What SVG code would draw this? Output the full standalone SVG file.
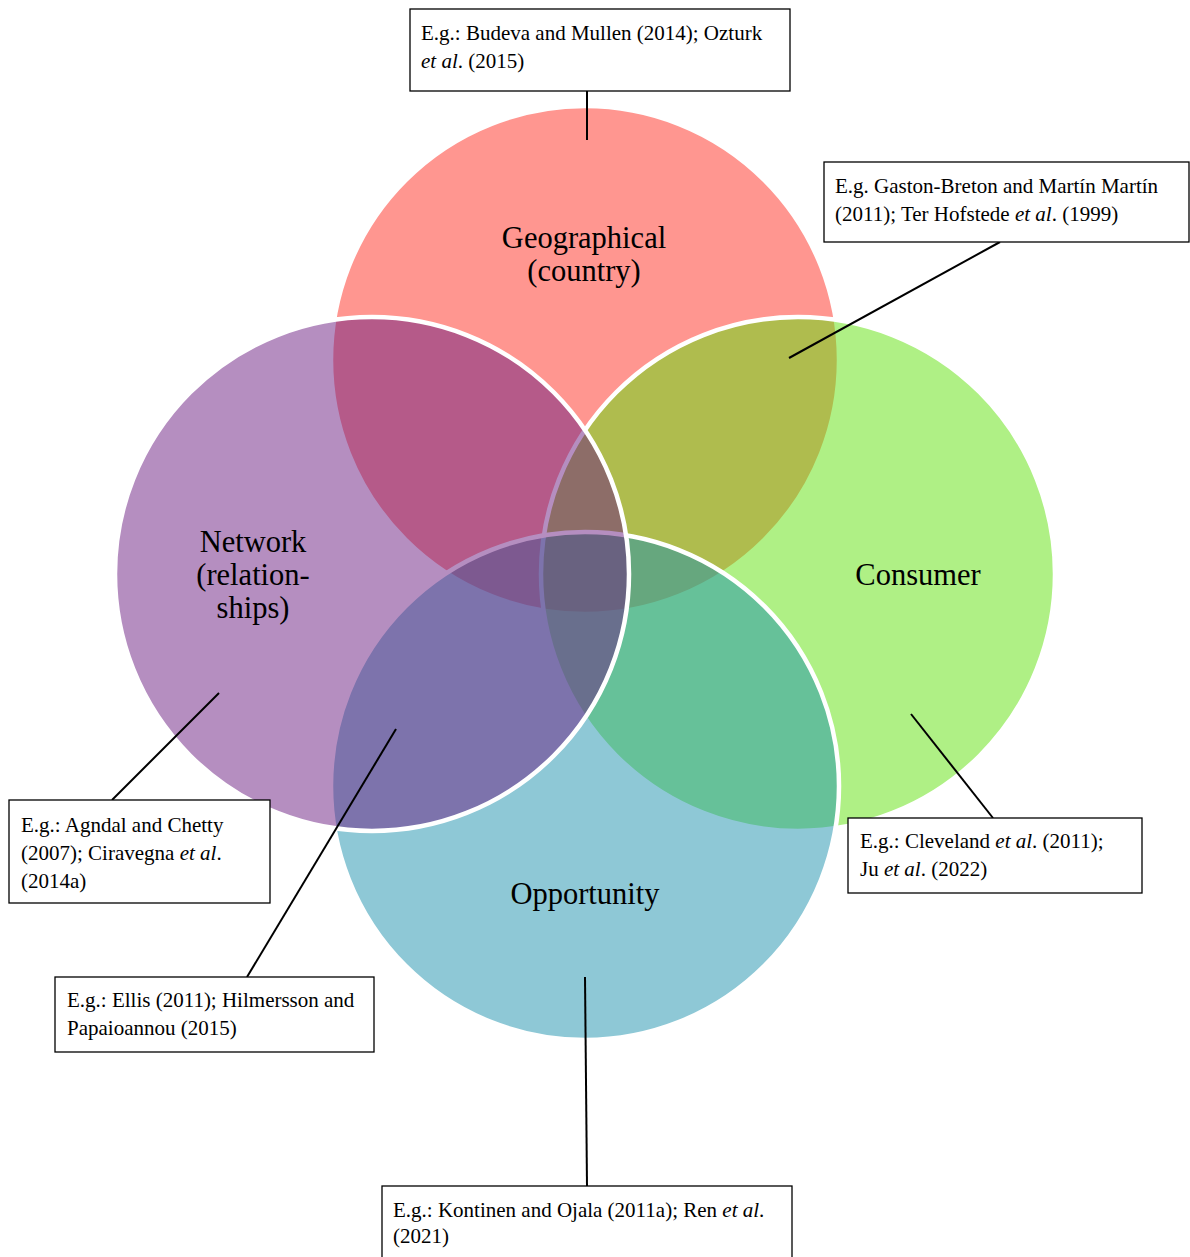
<svg xmlns="http://www.w3.org/2000/svg" width="1190" height="1257" viewBox="0 0 1190 1257">
<style>
.c{fill-opacity:0.5;stroke:#ffffff;stroke-width:4.5}
.lbl{font-family:"Liberation Serif","Times New Roman",serif;font-size:30.5px;fill:#000;text-anchor:middle}
.bx{fill:#ffffff;stroke:#000;stroke-width:1.3}
.t{font-family:"Liberation Serif","Times New Roman",serif;font-size:21px;fill:#000}
.i{font-style:italic}
.ln{stroke:#000;stroke-width:2;fill:none}
</style>
<rect width="1190" height="1257" fill="#ffffff"/>
<g id="circle-geographical"><circle class="c" cx="585" cy="360" r="254" fill="#FF2D21"/></g>
<g id="circle-consumer"><circle class="c" cx="798" cy="574" r="257" fill="#5FE10B"/></g>
<g id="circle-opportunity"><circle class="c" cx="585" cy="786" r="254" fill="#1D91AD"/></g>
<g id="circle-network"><circle class="c" cx="372" cy="574" r="257" fill="#6B1D81"/></g>
<g id="labels">
<text class="lbl" x="584" y="248">Geographical</text>
<text class="lbl" x="584" y="281">(country)</text>
<text class="lbl" x="253" y="552">Network</text>
<text class="lbl" x="253" y="585">(relation-</text>
<text class="lbl" x="253" y="618">ships)</text>
<text class="lbl" x="918" y="585">Consumer</text>
<text class="lbl" x="585" y="904">Opportunity</text>
</g>
<g id="connectors">
<line class="ln" x1="587" y1="91" x2="587" y2="140"/>
<line class="ln" x1="1000" y1="242" x2="789" y2="358"/>
<line class="ln" x1="112" y1="800" x2="219" y2="693"/>
<line class="ln" x1="993" y1="818" x2="911" y2="714"/>
<line class="ln" x1="247" y1="977" x2="396" y2="729"/>
<line class="ln" x1="587" y1="1186" x2="585" y2="977"/>
</g>
<g id="box-geographical">
<rect class="bx" x="410" y="9" width="380" height="82"/>
<text class="t" x="421" y="40">E.g.: Budeva and Mullen (2014); Ozturk</text>
<text class="t" x="421" y="68"><tspan class="i">et al</tspan>. (2015)</text>
</g>
<g id="box-consumer-geo">
<rect class="bx" x="824" y="162" width="365" height="80"/>
<text class="t" x="835" y="193">E.g. Gaston-Breton and Martín Martín</text>
<text class="t" x="835" y="221">(2011); Ter Hofstede <tspan class="i">et al</tspan>. (1999)</text>
</g>
<g id="box-network">
<rect class="bx" x="9" y="800" width="261" height="103"/>
<text class="t" x="21" y="832">E.g.: Agndal and Chetty</text>
<text class="t" x="21" y="860">(2007); Ciravegna <tspan class="i">et al</tspan>.</text>
<text class="t" x="21" y="888">(2014a)</text>
</g>
<g id="box-consumer">
<rect class="bx" x="848" y="818" width="294" height="75"/>
<text class="t" x="860" y="848">E.g.: Cleveland <tspan class="i">et al</tspan>. (2011);</text>
<text class="t" x="860" y="876">Ju <tspan class="i">et al</tspan>. (2022)</text>
</g>
<g id="box-network-opportunity">
<rect class="bx" x="55" y="977" width="319" height="75"/>
<text class="t" x="67" y="1007">E.g.: Ellis (2011); Hilmersson and</text>
<text class="t" x="67" y="1035">Papaioannou (2015)</text>
</g>
<g id="box-opportunity">
<rect class="bx" x="382" y="1186" width="410" height="80"/>
<text class="t" x="393" y="1217">E.g.: Kontinen and Ojala (2011a); Ren <tspan class="i">et al</tspan>.</text>
<text class="t" x="393" y="1243">(2021)</text>
</g>
</svg>
